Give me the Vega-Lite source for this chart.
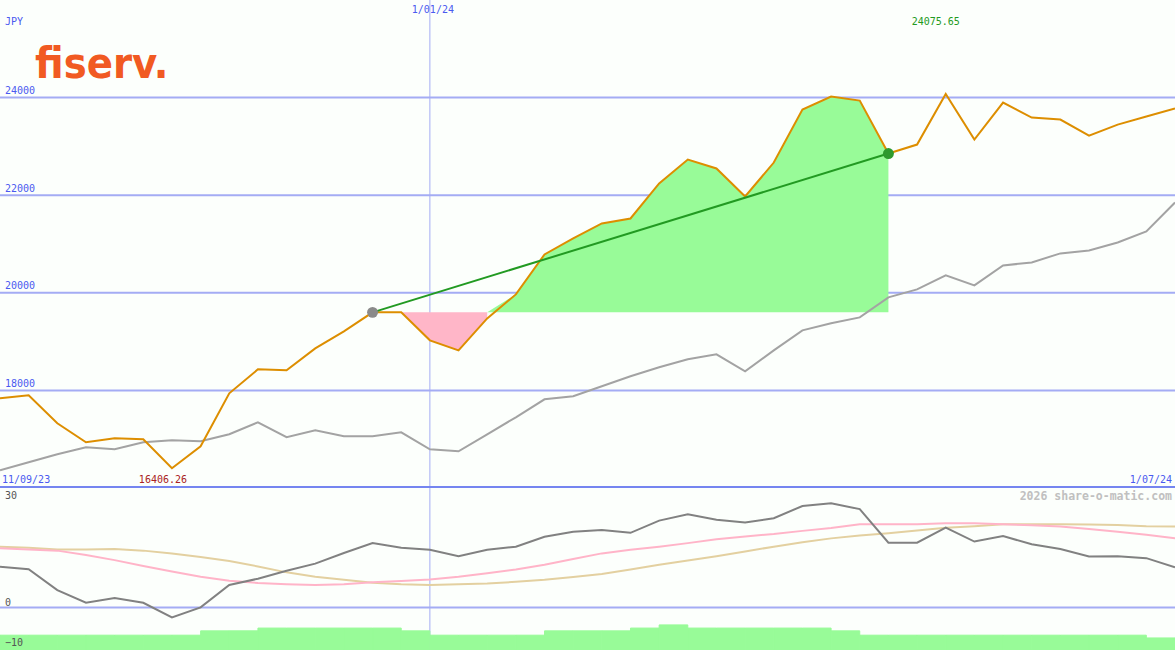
{
  "$schema": "https://vega.github.io/schema/vega-lite/v6.json",
  "background": "#fcfffc",
  "padding": 0,
  "autosize": {"type": "pad"},
  "bounds": "flush",
  "spacing": 0,
  "config": {
    "view": {"stroke": null},
    "axis": {"minExtent": 0},
    "font": "DejaVu Sans Mono"
  },
  "datasets": {
    "weeks": [
      {"d": "2023-09-18", "p": 17838, "a": 16364, "o": 10.3, "m1": 15.0, "m2": 15.4, "v": -7.0, "e": "2023-09-25"},
      {"d": "2023-09-25", "p": 17900, "a": 16528, "o": 9.7, "m1": 14.7, "m2": 15.1, "v": -7.0, "e": "2023-10-02"},
      {"d": "2023-10-02", "p": 17327, "a": 16692, "o": 4.4, "m1": 14.4, "m2": 14.7, "v": -7.0, "e": "2023-10-09"},
      {"d": "2023-10-09", "p": 16938, "a": 16835, "o": 1.2, "m1": 13.3, "m2": 14.7, "v": -7.0, "e": "2023-10-16"},
      {"d": "2023-10-16", "p": 17019, "a": 16794, "o": 2.4, "m1": 12.0, "m2": 14.8, "v": -7.0, "e": "2023-10-23"},
      {"d": "2023-10-23", "p": 16999, "a": 16938, "o": 1.2, "m1": 10.5, "m2": 14.4, "v": -7.0, "e": "2023-10-30"},
      {"d": "2023-10-30", "p": 16406.26, "a": 16979, "o": -2.5, "m1": 9.1, "m2": 13.7, "v": -7.0, "e": "2023-11-06"},
      {"d": "2023-11-06", "p": 16856, "a": 16958, "o": 0.05, "m1": 7.8, "m2": 12.8, "v": -5.9, "e": "2023-11-13"},
      {"d": "2023-11-13", "p": 17941, "a": 17101, "o": 5.7, "m1": 6.8, "m2": 11.8, "v": -5.9, "e": "2023-11-20"},
      {"d": "2023-11-20", "p": 18432, "a": 17347, "o": 7.3, "m1": 6.2, "m2": 10.4, "v": -5.2, "e": "2023-11-27"},
      {"d": "2023-11-27", "p": 18411, "a": 17040, "o": 9.3, "m1": 5.9, "m2": 8.9, "v": -5.2, "e": "2023-12-04"},
      {"d": "2023-12-04", "p": 18862, "a": 17183, "o": 11.1, "m1": 5.7, "m2": 7.8, "v": -5.2, "e": "2023-12-11"},
      {"d": "2023-12-11", "p": 19210, "a": 17060, "o": 13.8, "m1": 5.9, "m2": 7.0, "v": -5.2, "e": "2023-12-18"},
      {"d": "2023-12-18", "p": 19599, "a": 17060, "o": 16.3, "m1": 6.4, "m2": 6.3, "v": -5.2, "e": "2023-12-25"},
      {"d": "2023-12-25", "p": 19599, "a": 17142, "o": 15.1, "m1": 6.7, "m2": 5.9, "v": -5.9, "e": "2024-01-01", "dn": 19599},
      {"d": "2024-01-01", "p": 19026, "a": 16794, "o": 14.6, "m1": 7.1, "m2": 5.7, "v": -7.0, "e": "2024-01-08", "dn": 19026},
      {"d": "2024-01-08", "p": 18821, "a": 16753, "o": 13.0, "m1": 7.8, "m2": 5.9, "v": -7.0, "e": "2024-01-15", "dn": 18821},
      {"d": "2024-01-15", "p": 19476, "a": 17101, "o": 14.6, "m1": 8.7, "m2": 6.1, "v": -7.0, "e": "2024-01-22", "dn": 19476, "up": 19599},
      {"d": "2024-01-22", "p": 19967, "a": 17449, "o": 15.4, "m1": 9.6, "m2": 6.5, "v": -7.0, "e": "2024-01-29", "up": 19967},
      {"d": "2024-01-29", "p": 20786, "a": 17818, "o": 17.9, "m1": 10.8, "m2": 7.0, "v": -5.9, "e": "2024-02-05", "up": 20786},
      {"d": "2024-02-05", "p": 21114, "a": 17879, "o": 19.2, "m1": 12.3, "m2": 7.7, "v": -5.9, "e": "2024-02-12", "up": 21114},
      {"d": "2024-02-12", "p": 21421, "a": 18084, "o": 19.6, "m1": 13.7, "m2": 8.5, "v": -5.9, "e": "2024-02-19", "up": 21421},
      {"d": "2024-02-19", "p": 21523, "a": 18289, "o": 18.9, "m1": 14.6, "m2": 9.6, "v": -5.2, "e": "2024-02-26", "up": 21523},
      {"d": "2024-02-26", "p": 22240, "a": 18473, "o": 22.0, "m1": 15.4, "m2": 10.8, "v": -4.4, "e": "2024-03-04", "up": 22240},
      {"d": "2024-03-04", "p": 22731, "a": 18637, "o": 23.6, "m1": 16.3, "m2": 11.9, "v": -5.2, "e": "2024-03-11", "up": 22731},
      {"d": "2024-03-11", "p": 22547, "a": 18739, "o": 22.2, "m1": 17.3, "m2": 13.0, "v": -5.2, "e": "2024-03-18", "up": 22547},
      {"d": "2024-03-18", "p": 21973, "a": 18391, "o": 21.5, "m1": 18.0, "m2": 14.2, "v": -5.2, "e": "2024-03-25", "up": 21973},
      {"d": "2024-03-25", "p": 22669, "a": 18821, "o": 22.6, "m1": 18.6, "m2": 15.4, "v": -5.2, "e": "2024-04-01", "up": 22669},
      {"d": "2024-04-01", "p": 23754, "a": 19230, "o": 25.7, "m1": 19.4, "m2": 16.5, "v": -5.2, "e": "2024-04-08", "up": 23754},
      {"d": "2024-04-08", "p": 24020, "a": 19374, "o": 26.4, "m1": 20.1, "m2": 17.5, "v": -5.9, "e": "2024-04-15", "up": 24020},
      {"d": "2024-04-15", "p": 23939, "a": 19496, "o": 24.9, "m1": 21.1, "m2": 18.2, "v": -7.0, "e": "2024-04-22", "up": 23939},
      {"d": "2024-04-22", "p": 22854, "a": 19906, "o": 16.4, "m1": 21.1, "m2": 18.8, "v": -7.0, "e": "2024-04-29", "up": 22854},
      {"d": "2024-04-29", "p": 23038, "a": 20070, "o": 16.4, "m1": 21.1, "m2": 19.5, "v": -7.0, "e": "2024-05-06"},
      {"d": "2024-05-06", "p": 24075.65, "a": 20356, "o": 20.2, "m1": 21.3, "m2": 20.2, "v": -7.0, "e": "2024-05-13"},
      {"d": "2024-05-13", "p": 23140, "a": 20151, "o": 16.7, "m1": 21.3, "m2": 20.6, "v": -7.0, "e": "2024-05-20"},
      {"d": "2024-05-20", "p": 23898, "a": 20561, "o": 18.1, "m1": 21.1, "m2": 21.1, "v": -7.0, "e": "2024-05-27"},
      {"d": "2024-05-27", "p": 23591, "a": 20622, "o": 16.0, "m1": 20.8, "m2": 21.1, "v": -7.0, "e": "2024-06-03"},
      {"d": "2024-06-03", "p": 23550, "a": 20807, "o": 14.8, "m1": 20.5, "m2": 21.1, "v": -7.0, "e": "2024-06-10"},
      {"d": "2024-06-10", "p": 23222, "a": 20868, "o": 12.9, "m1": 19.9, "m2": 21.0, "v": -7.0, "e": "2024-06-17"},
      {"d": "2024-06-17", "p": 23447, "a": 21032, "o": 13.0, "m1": 19.2, "m2": 20.9, "v": -7.0, "e": "2024-06-24"},
      {"d": "2024-06-24", "p": 23611, "a": 21257, "o": 12.5, "m1": 18.4, "m2": 20.6, "v": -7.7, "e": "2024-07-01"},
      {"d": "2024-07-01", "p": 23775, "a": 21851, "o": 10.2, "m1": 17.5, "m2": 20.5}
    ],
    "trend": [
      {"d": "2023-12-18", "p": 19599, "k": "start"},
      {"d": "2024-04-22", "p": 22854, "k": "end"}
    ],
    "priceTicks": [{"t": 18000}, {"t": 20000}, {"t": 22000}, {"t": 24000}],
    "oscTicks": [{"t": 0}, {"t": -10}],
    "oscTop": [{"t": 30}]
  },
  "vconcat": [
    {
      "width": 1175,
      "height": 488,
      "data": {"name": "weeks"},
      "layer": [
        {
          "data": {"name": "priceTicks"},
          "mark": {"type": "rule", "color": "#a4acf4", "strokeWidth": 2, "clip": true},
          "encoding": {
            "y": {"field": "t", "type": "quantitative", "scale": {"domain": [16000, 26000], "nice": false, "zero": false}, "axis": null}
          }
        },
        {
          "data": {"values": [{}]},
          "mark": {"type": "rule", "color": "#a4acf4", "strokeWidth": 1, "clip": true},
          "encoding": {
            "x": {"datum": {"year": 2024, "month": 1, "date": 1, "utc": true}, "type": "temporal",
                  "scale": {"type": "utc", "domain": [{"year": 2023, "month": 9, "date": 18, "utc": true}, {"year": 2024, "month": 7, "date": 1, "utc": true}], "nice": false}, "axis": null}
          }
        },
        {
          "transform": [{"filter": "isValid(datum.up)"}],
          "mark": {"type": "area", "color": "#98fb98", "opacity": 1, "clip": true},
          "encoding": {
            "x": {"field": "d", "type": "temporal", "scale": {"type": "utc"}, "axis": null},
            "y": {"field": "up", "type": "quantitative", "scale": {"domain": [16000, 26000], "nice": false, "zero": false}, "axis": null},
            "y2": {"datum": 19599}
          }
        },
        {
          "transform": [{"filter": "isValid(datum.dn)"}],
          "mark": {"type": "area", "color": "#ffb6c8", "opacity": 1, "clip": true},
          "encoding": {
            "x": {"field": "d", "type": "temporal", "scale": {"type": "utc"}, "axis": null},
            "y": {"field": "dn", "type": "quantitative", "scale": {"domain": [16000, 26000], "nice": false, "zero": false}, "axis": null},
            "y2": {"datum": 19599}
          }
        },
        {
          "mark": {"type": "line", "color": "#a3a3a3", "strokeWidth": 2, "clip": true},
          "encoding": {
            "x": {"field": "d", "type": "temporal", "scale": {"type": "utc"}, "axis": null},
            "y": {"field": "a", "type": "quantitative", "scale": {"domain": [16000, 26000], "nice": false, "zero": false}, "axis": null}
          }
        },
        {
          "mark": {"type": "line", "color": "#dd8e00", "strokeWidth": 2, "clip": true},
          "encoding": {
            "x": {"field": "d", "type": "temporal", "scale": {"type": "utc"}, "axis": null},
            "y": {"field": "p", "type": "quantitative", "scale": {"domain": [16000, 26000], "nice": false, "zero": false}, "axis": null}
          }
        },
        {
          "data": {"name": "trend"},
          "mark": {"type": "line", "color": "#229a22", "strokeWidth": 2},
          "encoding": {
            "x": {"field": "d", "type": "temporal", "scale": {"type": "utc"}, "axis": null},
            "y": {"field": "p", "type": "quantitative", "scale": {"domain": [16000, 26000], "nice": false, "zero": false}, "axis": null}
          }
        },
        {
          "data": {"name": "trend"},
          "mark": {"type": "point", "filled": true, "opacity": 1, "size": 120},
          "encoding": {
            "x": {"field": "d", "type": "temporal", "scale": {"type": "utc"}, "axis": null},
            "y": {"field": "p", "type": "quantitative", "scale": {"domain": [16000, 26000], "nice": false, "zero": false}, "axis": null},
            "color": {"field": "k", "type": "nominal", "scale": {"domain": ["start", "end"], "range": ["#8a8a8a", "#2e9a2e"]}, "legend": null}
          }
        },
        {
          "data": {"values": [{}]},
          "mark": {"type": "rule", "color": "#7585f0", "strokeWidth": 4, "clip": true},
          "encoding": {
            "y": {"datum": 16000, "type": "quantitative", "scale": {"domain": [16000, 26000], "nice": false, "zero": false}, "axis": null}
          }
        },
        {
          "data": {"name": "priceTicks"},
          "mark": {"type": "text", "align": "left", "baseline": "alphabetic", "dx": 5, "dy": -3.5, "fontSize": 10, "font": "DejaVu Sans Mono", "color": "#4a5af0"},
          "encoding": {
            "x": {"datum": {"year": 2023, "month": 9, "date": 18, "utc": true}, "type": "temporal", "scale": {"type": "utc"}, "axis": null},
            "y": {"field": "t", "type": "quantitative", "scale": {"domain": [16000, 26000], "nice": false, "zero": false}, "axis": null},
            "text": {"field": "t", "type": "quantitative", "format": "d"}
          }
        },
        {
          "data": {"values": [{}]},
          "mark": {"type": "text", "text": "JPY", "align": "left", "baseline": "alphabetic", "dx": 5, "dy": 25, "fontSize": 10, "font": "DejaVu Sans Mono", "color": "#4a5af0"},
          "encoding": {
            "x": {"datum": {"year": 2023, "month": 9, "date": 18, "utc": true}, "type": "temporal", "scale": {"type": "utc"}, "axis": null},
            "y": {"datum": 26000, "type": "quantitative", "scale": {"domain": [16000, 26000], "nice": false, "zero": false}, "axis": null}
          }
        },
        {
          "data": {"values": [{}]},
          "mark": {"type": "text", "text": "fiserv.", "align": "left", "baseline": "alphabetic", "dx": 35, "dy": 78, "fontSize": 43, "fontWeight": "bold", "font": "Liberation Sans Narrow, DejaVu Sans Condensed, sans-serif", "color": "#f15a22"},
          "encoding": {
            "x": {"datum": {"year": 2023, "month": 9, "date": 18, "utc": true}, "type": "temporal", "scale": {"type": "utc"}, "axis": null},
            "y": {"datum": 26000, "type": "quantitative", "scale": {"domain": [16000, 26000], "nice": false, "zero": false}, "axis": null}
          }
        },
        {
          "data": {"values": [{}]},
          "mark": {"type": "text", "text": "1/01/24", "align": "center", "baseline": "alphabetic", "dx": 3, "dy": 13, "fontSize": 10, "font": "DejaVu Sans Mono", "color": "#4a5af0"},
          "encoding": {
            "x": {"datum": {"year": 2024, "month": 1, "date": 1, "utc": true}, "type": "temporal", "scale": {"type": "utc"}, "axis": null},
            "y": {"datum": 26000, "type": "quantitative", "scale": {"domain": [16000, 26000], "nice": false, "zero": false}, "axis": null}
          }
        },
        {
          "data": {"values": [{}]},
          "mark": {"type": "text", "text": "24075.65", "align": "center", "baseline": "alphabetic", "dx": -10, "dy": 25, "fontSize": 10, "font": "DejaVu Sans Mono", "color": "#229a22"},
          "encoding": {
            "x": {"datum": {"year": 2024, "month": 5, "date": 6, "utc": true}, "type": "temporal", "scale": {"type": "utc"}, "axis": null},
            "y": {"datum": 26000, "type": "quantitative", "scale": {"domain": [16000, 26000], "nice": false, "zero": false}, "axis": null}
          }
        },
        {
          "data": {"values": [{}]},
          "mark": {"type": "text", "text": "11/09/23", "align": "left", "baseline": "alphabetic", "dx": 2, "dy": -5, "fontSize": 10, "font": "DejaVu Sans Mono", "color": "#4a5af0"},
          "encoding": {
            "x": {"datum": {"year": 2023, "month": 9, "date": 18, "utc": true}, "type": "temporal", "scale": {"type": "utc"}, "axis": null},
            "y": {"datum": 16000, "type": "quantitative", "scale": {"domain": [16000, 26000], "nice": false, "zero": false}, "axis": null}
          }
        },
        {
          "data": {"values": [{}]},
          "mark": {"type": "text", "text": "16406.26", "align": "center", "baseline": "alphabetic", "dx": -9, "dy": -5, "fontSize": 10, "font": "DejaVu Sans Mono", "color": "#aa2222"},
          "encoding": {
            "x": {"datum": {"year": 2023, "month": 10, "date": 30, "utc": true}, "type": "temporal", "scale": {"type": "utc"}, "axis": null},
            "y": {"datum": 16000, "type": "quantitative", "scale": {"domain": [16000, 26000], "nice": false, "zero": false}, "axis": null}
          }
        },
        {
          "data": {"values": [{}]},
          "mark": {"type": "text", "text": "1/07/24", "align": "right", "baseline": "alphabetic", "dx": -3, "dy": -5, "fontSize": 10, "font": "DejaVu Sans Mono", "color": "#4a5af0"},
          "encoding": {
            "x": {"datum": {"year": 2024, "month": 7, "date": 1, "utc": true}, "type": "temporal", "scale": {"type": "utc"}, "axis": null},
            "y": {"datum": 16000, "type": "quantitative", "scale": {"domain": [16000, 26000], "nice": false, "zero": false}, "axis": null}
          }
        }
      ]
    },
    {
      "width": 1175,
      "height": 162,
      "data": {"name": "weeks"},
      "layer": [
        {
          "data": {"values": [{}]},
          "mark": {"type": "rule", "color": "#a4acf4", "strokeWidth": 1, "clip": true},
          "encoding": {
            "x": {"datum": {"year": 2024, "month": 1, "date": 1, "utc": true}, "type": "temporal",
                  "scale": {"type": "utc", "domain": [{"year": 2023, "month": 9, "date": 18, "utc": true}, {"year": 2024, "month": 7, "date": 1, "utc": true}], "nice": false}, "axis": null}
          }
        },
        {
          "transform": [{"filter": "isValid(datum.v)"}],
          "mark": {"type": "rect", "color": "#98fb98", "stroke": "#98fb98", "strokeWidth": 1, "clip": true},
          "encoding": {
            "x": {"field": "d", "type": "temporal", "scale": {"type": "utc"}, "axis": null},
            "x2": {"field": "e"},
            "y": {"field": "v", "type": "quantitative", "scale": {"domain": [-10.75, 30.25], "nice": false, "zero": false}, "axis": null},
            "y2": {"datum": -10.75}
          }
        },
        {
          "data": {"values": [{}]},
          "mark": {"type": "rule", "color": "#a4acf4", "strokeWidth": 2, "clip": true},
          "encoding": {
            "y": {"datum": 0, "type": "quantitative", "scale": {"domain": [-10.75, 30.25], "nice": false, "zero": false}, "axis": null}
          }
        },
        {
          "mark": {"type": "line", "color": "#e3d0a0", "strokeWidth": 2, "clip": true},
          "encoding": {
            "x": {"field": "d", "type": "temporal", "scale": {"type": "utc"}, "axis": null},
            "y": {"field": "m2", "type": "quantitative", "scale": {"domain": [-10.75, 30.25], "nice": false, "zero": false}, "axis": null}
          }
        },
        {
          "mark": {"type": "line", "color": "#ffb4c8", "strokeWidth": 2, "clip": true},
          "encoding": {
            "x": {"field": "d", "type": "temporal", "scale": {"type": "utc"}, "axis": null},
            "y": {"field": "m1", "type": "quantitative", "scale": {"domain": [-10.75, 30.25], "nice": false, "zero": false}, "axis": null}
          }
        },
        {
          "mark": {"type": "line", "color": "#818181", "strokeWidth": 2, "clip": true},
          "encoding": {
            "x": {"field": "d", "type": "temporal", "scale": {"type": "utc"}, "axis": null},
            "y": {"field": "o", "type": "quantitative", "scale": {"domain": [-10.75, 30.25], "nice": false, "zero": false}, "axis": null}
          }
        },
        {
          "data": {"name": "oscTicks"},
          "mark": {"type": "text", "align": "left", "baseline": "alphabetic", "dx": 5, "dy": -1.5, "fontSize": 10, "font": "DejaVu Sans Mono", "color": "#555555"},
          "encoding": {
            "x": {"datum": {"year": 2023, "month": 9, "date": 18, "utc": true}, "type": "temporal", "scale": {"type": "utc"}, "axis": null},
            "y": {"field": "t", "type": "quantitative", "scale": {"domain": [-10.75, 30.25], "nice": false, "zero": false}, "axis": null},
            "text": {"field": "t", "type": "quantitative", "format": "d"}
          }
        },
        {
          "data": {"name": "oscTop"},
          "mark": {"type": "text", "align": "left", "baseline": "alphabetic", "dx": 5, "dy": 10.5, "fontSize": 10, "font": "DejaVu Sans Mono", "color": "#555555"},
          "encoding": {
            "x": {"datum": {"year": 2023, "month": 9, "date": 18, "utc": true}, "type": "temporal", "scale": {"type": "utc"}, "axis": null},
            "y": {"field": "t", "type": "quantitative", "scale": {"domain": [-10.75, 30.25], "nice": false, "zero": false}, "axis": null},
            "text": {"field": "t", "type": "quantitative", "format": "d"}
          }
        },
        {
          "data": {"values": [{}]},
          "mark": {"type": "text", "text": "2026 share-o-matic.com", "align": "right", "baseline": "alphabetic", "dx": -3, "dy": 12, "fontSize": 11.5, "fontWeight": "bold", "font": "DejaVu Sans Mono", "color": "#c0c0c0"},
          "encoding": {
            "x": {"datum": {"year": 2024, "month": 7, "date": 1, "utc": true}, "type": "temporal", "scale": {"type": "utc"}, "axis": null},
            "y": {"datum": 30.25, "type": "quantitative", "scale": {"domain": [-10.75, 30.25], "nice": false, "zero": false}, "axis": null}
          }
        }
      ]
    }
  ]
}
